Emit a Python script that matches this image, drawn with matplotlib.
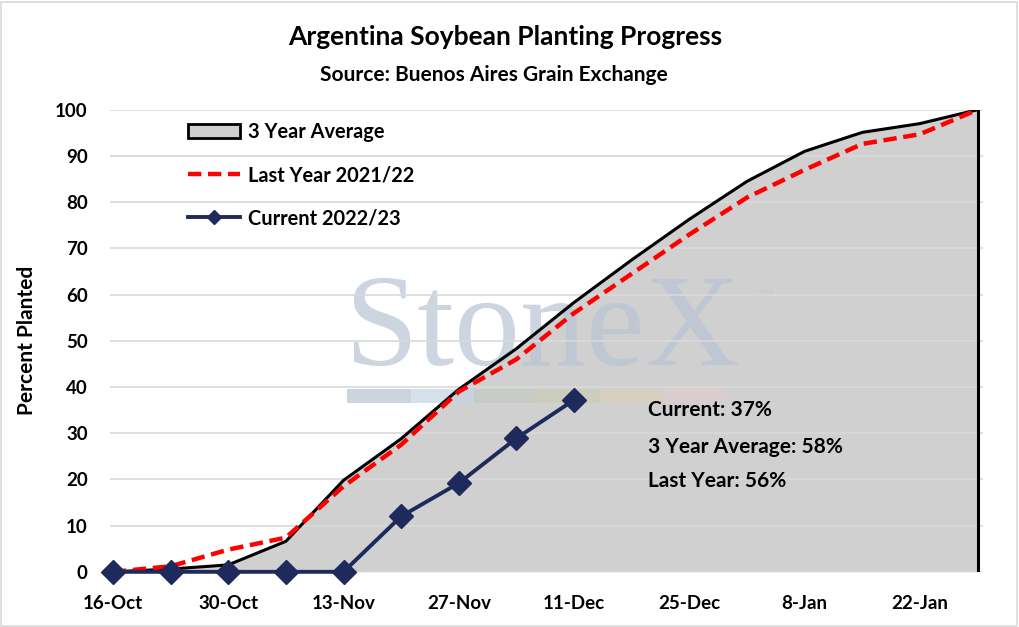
import matplotlib
matplotlib.use("Agg")
import matplotlib.pyplot as plt
from matplotlib.patches import Rectangle, Patch
from matplotlib.lines import Line2D

plt.rcParams['font.family'] = ['Lato', 'DejaVu Sans']
plt.rcParams['font.weight'] = 'bold'

# weekly dates, 16-Oct to 29-Jan
weeks = ['16-Oct', '23-Oct', '30-Oct', '6-Nov', '13-Nov', '20-Nov', '27-Nov', '4-Dec',
         '11-Dec', '18-Dec', '25-Dec', '1-Jan', '8-Jan', '15-Jan', '22-Jan', '29-Jan']
avg_3yr = [0, 0.6, 1.5, 6.6, 19.8, 28.8, 39.5, 48.3, 58.3, 67.5, 76.3, 84.5, 91.0, 95.1, 97.0, 100]
last_year = [0, 1.2, 4.8, 7.4, 18.5, 27.5, 39.0, 46.0, 56.0, 64.5, 73.0, 81.0, 87.0, 92.6, 94.7, 100]
current = [0, 0, 0, 0, 0, 12.0, 19.2, 28.9, 37.2]

x = list(range(len(weeks)))
xc = x[:len(current)]

fig = plt.figure(figsize=(10.19, 6.27), dpi=100)
fig.patches.append(Rectangle((0.001, 0.002), 0.997, 0.995, transform=fig.transFigure,
                             fill=False, edgecolor='#d9d9d9', linewidth=1.2))
ax = fig.add_axes([0.108, 0.088, 0.857, 0.737])

# StoneX watermark, between the fill and the lines
ax.text(0.338, 0.418, 'StoneX', transform=fig.transFigure, family='Liberation Serif',
        fontsize=95, weight='normal', color='#b8c4d3', alpha=0.7, zorder=2.2)
ax.text(0.745, 0.527, 'TM', transform=fig.transFigure, fontsize=7, weight='normal',
        color='#c8c8c8', zorder=2.2)
bar_cols = ['#b8c3d1', '#c3d3e4', '#c3cac3', '#cdcdb6', '#dbd1bc', '#decccc']
for i, c in enumerate(bar_cols):
    ax.add_patch(Rectangle((0.341 + i * 0.062, 0.358), 0.062, 0.022, transform=fig.transFigure,
                           color=c, alpha=0.7, lw=0, zorder=2.2))

ax.set_facecolor('none')
ax.fill_between(x, avg_3yr, color='#d0d0d0', lw=0, zorder=2)
ax.plot(x, avg_3yr, color='black', lw=2.2, zorder=3)
ax.plot([x[-1], x[-1]], [0, avg_3yr[-1]], color='black', lw=2.2, zorder=3)
ax.plot(x, last_year, color='#ff0000', lw=3.2, dashes=(3, 1.5), zorder=4)
ax.plot(xc, current, color='#1f2a5c', lw=2.8, marker='D', ms=12, zorder=5, clip_on=False)

ax.set_xlim(-0.05, 15.1)
ax.set_ylim(0, 100)
ax.set_yticks(range(0, 101, 10))
ax.set_xticks(x[::2])
ax.set_xticklabels(weeks[::2])
ax.tick_params(length=0, labelsize=13.5)
ax.tick_params(axis='x', pad=17)
ax.tick_params(axis='y', pad=16)
for y in range(0, 101, 10):
    ax.axhline(y, color='#d9d9d9', lw=1.2, zorder=2.5)
for s in ax.spines.values():
    s.set_visible(False)
ax.set_ylabel('Percent Planted', fontsize=15, weight='bold', labelpad=13)

fig.text(0.496, 0.941, 'Argentina Soybean Planting Progress', ha='center', va='center',
         fontsize=19)
fig.text(0.485, 0.880, 'Source: Buenos Aires Grain Exchange', ha='center', va='center',
         fontsize=15)

handles = [Patch(facecolor='#d0d0d0', edgecolor='black', lw=2),
           Line2D([], [], color='#ff0000', lw=3.2, dashes=(3, 1.5)),
           Line2D([], [], color='#1f2a5c', lw=2.8, marker='D', ms=7)]
ax.legend(handles, ['3 Year Average', 'Last Year 2021/22', 'Current 2022/23'],
          loc='upper left', bbox_to_anchor=(0.08, 0.99), frameon=False, fontsize=14.4,
          handlelength=2.6, labelspacing=1.15, handletextpad=0.4, borderaxespad=0)

ax.text(0.616, 0.351, 'Current: 37%', transform=ax.transAxes, va='center', fontsize=15)
ax.text(0.616, 0.271, '3 Year Average: 58%', transform=ax.transAxes, va='center', fontsize=15)
ax.text(0.616, 0.197, 'Last Year: 56%', transform=ax.transAxes, va='center', fontsize=15)

fig.savefig('out.png', dpi=100)
